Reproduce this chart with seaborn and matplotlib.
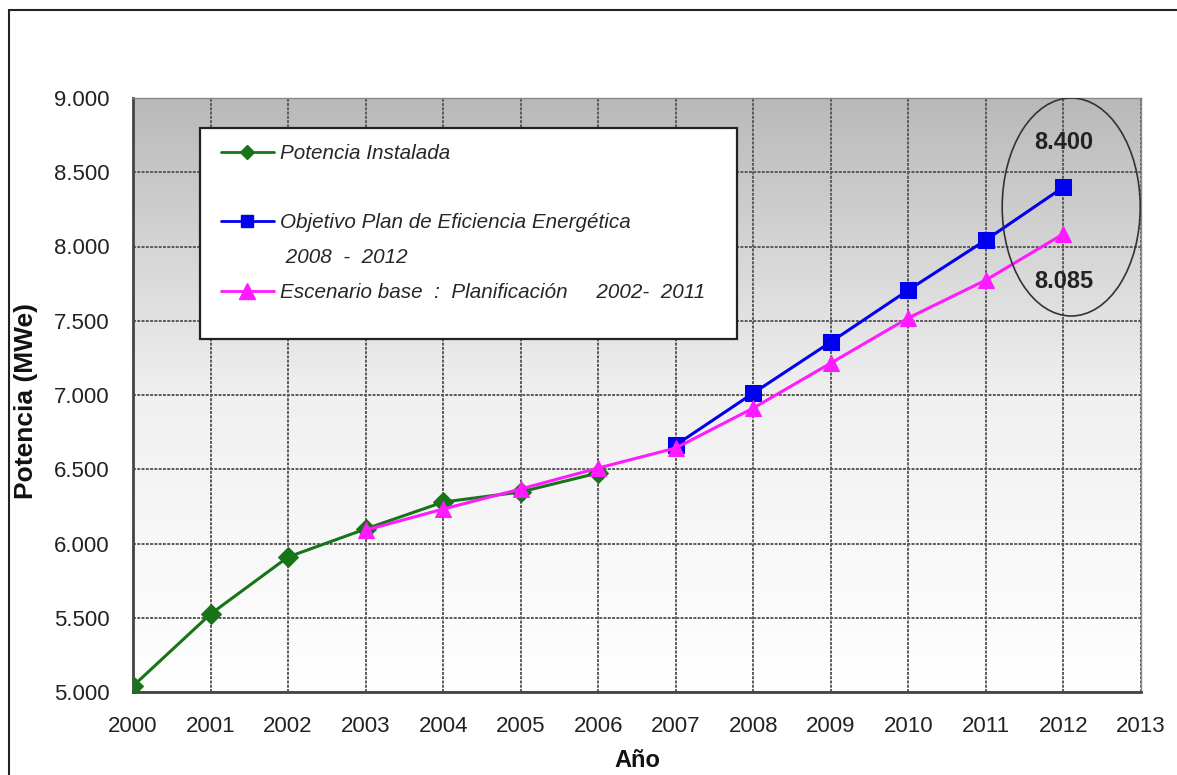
import numpy as np
import matplotlib
matplotlib.use("Agg")
import matplotlib.pyplot as plt
import seaborn as sns
from matplotlib.patches import Ellipse, Rectangle
from matplotlib.lines import Line2D
from matplotlib.colors import LinearSegmentedColormap
from matplotlib.ticker import FuncFormatter

# ---- data ----
years_instalada = [2000, 2001, 2002, 2003, 2004, 2005, 2006]
potencia_instalada = [5040, 5525, 5909, 6098, 6279, 6347, 6475]

years_objetivo = [2007, 2008, 2009, 2010, 2011, 2012]
objetivo_plan = [6663, 7013, 7357, 7707, 8044, 8400]

years_escenario = [2003, 2004, 2005, 2006, 2007, 2008, 2009, 2010, 2011, 2012]
escenario_base = [6090, 6232, 6367, 6508, 6643, 6912, 7215, 7519, 7774, 8085]

x_ticks = list(range(2000, 2014))
y_ticks = list(range(5000, 9001, 500))

label_instalada = "Potencia Instalada"
label_objetivo = "Objetivo Plan de Eficiencia Energética"
label_objetivo2 = " 2008  -  2012"
label_escenario = "Escenario base  :  Planificación     2002-  2011"
annot_labels = ["8.400", "8.085"]
annot_values = [8697, 7761]

sns.set_style("white")
plt.rcParams["font.family"] = ["Liberation Sans", "DejaVu Sans"]

W, H = 1177, 775
fig = plt.figure(figsize=(W / 100, H / 100), dpi=100)
ax = fig.add_axes([133 / W, 1 - 692 / H, 1008 / W, 594 / H])

# background gradient
cmap = LinearSegmentedColormap.from_list("bg", ["#ffffff", "#f0f0f0", "#b9b9b9"])
grad = np.linspace(0, 1, 256).reshape(-1, 1)
ax.imshow(grad, extent=[0, 1, 0, 1], transform=ax.transAxes, origin="lower",
          aspect="auto", cmap=cmap, zorder=0)

green = "#177517"
blue = "#0000ee"
pink = "#ff1aff"

sns.lineplot(x=years_instalada, y=potencia_instalada, ax=ax, color=green,
             marker="D", markersize=10, markeredgecolor=green, linewidth=2.2,
             legend=False, zorder=3)
sns.lineplot(x=years_objetivo, y=objetivo_plan, ax=ax, color=blue,
             marker="s", markersize=11, markeredgecolor=blue, linewidth=2.2,
             legend=False, zorder=3)
sns.lineplot(x=years_escenario, y=escenario_base, ax=ax, color=pink,
             marker="^", markersize=12, markeredgecolor=pink, linewidth=2.2,
             legend=False, zorder=3)

ax.set_xlim(2000, 2013)
ax.set_ylim(5000, 9000)
ax.set_xticks(x_ticks)
ax.set_yticks(y_ticks)
ax.yaxis.set_major_formatter(FuncFormatter(lambda v, p: f"{int(v):,}".replace(",", ".")))

ax.set_axisbelow(True)
ax.grid(True, color="#5a5a5a", linewidth=1.4, linestyle=(0, (1.5, 0.7)))

ax.tick_params(direction="out", length=7, width=1.5, color="#444444",
               labelsize=16, labelcolor="#222222", pad=10)
for side in ["left", "bottom"]:
    ax.spines[side].set_color("#444444")
    ax.spines[side].set_linewidth(2)
for side in ["top", "right"]:
    ax.spines[side].set_color("#8a8a8a")
    ax.spines[side].set_linewidth(1)

ax.set_ylabel("Potencia (MWe)", fontsize=19, fontweight="bold", color="#111111")
ax.yaxis.set_label_coords((38 - 133) / 1008, 0.49)
ax.set_xlabel("Año", fontsize=17, fontweight="bold", color="#111111")
ax.xaxis.set_label_coords(0.5, (692 - 749) / 594)

# ellipse + annotations
ax.add_patch(Ellipse((2012.1, 8266), 1.78, 1468, fill=False, edgecolor="#333333",
                     linewidth=1.2, zorder=4))
for t, v in zip(annot_labels, annot_values):
    ax.text(2012, v, t, ha="center", va="center", fontsize=17, fontweight="bold",
            color="#222222", zorder=5)

# legend box
ax.add_patch(Rectangle(((200 - 133) / 1008, (692 - 339) / 594),
                       (737 - 200) / 1008, (339 - 128) / 594, transform=ax.transAxes,
                       facecolor="white", edgecolor="#222222", linewidth=1.6, zorder=6))
blank = Line2D([], [], color="none")
handles = [
    Line2D([], [], color=green, marker="D", markersize=7, linewidth=2),
    blank,
    Line2D([], [], color=blue, marker="s", markersize=9, linewidth=2),
    blank,
    Line2D([], [], color=pink, marker="^", markersize=11, linewidth=2),
]
labels = [label_instalada, "", label_objetivo, label_objetivo2, label_escenario]
leg = ax.legend(handles, labels, loc="upper left", bbox_to_anchor=((221 - 133) / 1008, 0.9226),
                frameon=False, prop={"style": "italic", "size": 14.9},
                handlelength=2.55, handletextpad=0.3, labelspacing=0.76,
                borderaxespad=0, borderpad=0)
leg.set_zorder(7)

# outer frame lines
fig.add_artist(Line2D([9 / W, 9 / W], [0, 1 - 10 / H], color="#222222", lw=1.5,
                      transform=fig.transFigure))
fig.add_artist(Line2D([9 / W, 1], [1 - 10 / H, 1 - 10 / H], color="#222222", lw=1.5,
                      transform=fig.transFigure))

fig.savefig("out.png", dpi=100)
